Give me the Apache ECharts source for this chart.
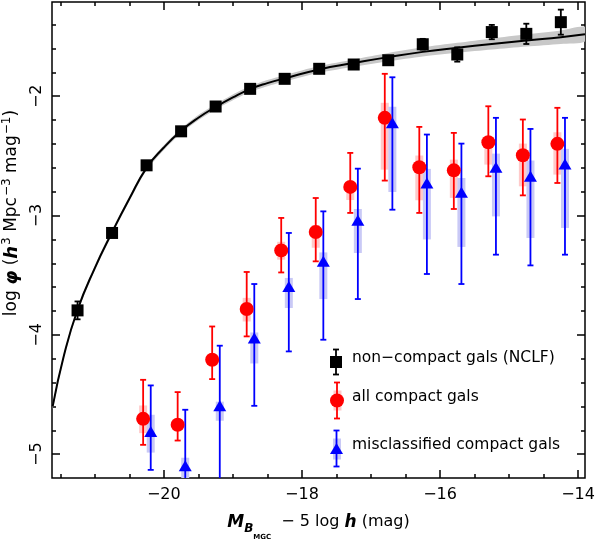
<!DOCTYPE html>
<html>
<head>
<meta charset="utf-8">
<script src="https://cdn.jsdelivr.net/npm/echarts@6/dist/echarts.min.js"></script>
<style>
  html, body { margin: 0; padding: 0; background: #fff; }
  #chart { width: 598px; height: 542px; }
</style>
</head>
<body>
<div id="chart"></div>
<script>
  // --- data ---
  // non-compact LF (black squares)
  const nclfMag = [-21.25, -20.75, -20.25, -19.75, -19.25, -18.75, -18.25, -17.75, -17.25, -16.75, -16.25, -15.75, -15.25, -14.75, -14.25]
  const nclfPhi = [-3.795, -3.146, -2.579, -2.294, -2.086, -1.938, -1.854, -1.770, -1.734, -1.698, -1.564, -1.650, -1.462, -1.477, -1.379]
  const nclfErr = [0.075, 0.03, 0.02, 0.02, 0.02, 0.02, 0.02, 0.025, 0.03, 0.035, 0.045, 0.06, 0.06, 0.085, 0.105]

  // Schechter fit (black line) and its grey uncertainty band
  const fitMag = [-21.61, -21.45, -21.25, -21.0, -20.75, -20.5, -20.25, -20.0, -19.75, -19.5, -19.25, -19.0, -18.75, -18.5, -18.25, -17.75, -17.25, -16.75, -16.25, -15.75, -15.25, -14.75, -14.25, -13.9]
  const fitPhi = [-4.60, -4.18, -3.79, -3.44, -3.14, -2.86, -2.60, -2.43, -2.29, -2.18, -2.09, -2.01, -1.94, -1.89, -1.85, -1.775, -1.722, -1.672, -1.628, -1.594, -1.562, -1.532, -1.505, -1.48]
  const fitBand = [0.02, 0.02, 0.02, 0.02, 0.02, 0.02, 0.02, 0.02, 0.02, 0.022, 0.022, 0.024, 0.025, 0.026, 0.027, 0.028, 0.03, 0.034, 0.038, 0.042, 0.047, 0.052, 0.057, 0.062]

  // compact galaxies, bins shared by both samples
  const compactMag = [-20.25, -19.75, -19.25, -18.75, -18.25, -17.75, -17.25, -16.75, -16.25, -15.75, -15.25, -14.75, -14.25]

  // all compact gals (red)
  const allPhi    = [-4.704, -4.754, -4.209, -3.784, -3.292, -3.138, -2.760, -2.181, -2.595, -2.621, -2.386, -2.495, -2.399]
  const allErrHi  = [-4.377, -4.480, -3.930, -3.473, -3.020, -2.853, -2.475, -1.812, -2.257, -2.307, -2.084, -2.195, -2.097]
  const allErrLo  = [-4.922, -4.886, -4.371, -4.013, -3.477, -3.384, -2.978, -2.707, -2.978, -2.945, -2.671, -2.831, -2.727]
  const allSysHi  = [-4.592, -4.710, -4.170, -3.690, -3.220, -3.080, -2.720, -2.055, -2.497, -2.531, -2.357, -2.397, -2.302]
  const allSysLo  = [-4.824, -4.800, -4.250, -3.888, -3.370, -3.270, -2.870, -2.615, -2.872, -2.852, -2.573, -2.755, -2.657]

  // misclassified compact gals (blue)
  const misPhi    = [-4.810, -5.098, -4.595, -4.027, -3.594, -3.384, -3.040, -2.223, -2.727, -2.805, -2.595, -2.671, -2.567]
  const misErrHi  = [-4.424, -4.628, -4.091, -3.574, -3.146, -2.965, -2.607, -1.841, -2.321, -2.397, -2.181, -2.274, -2.181]
  const misErrLo  = [-5.132, -5.600, -5.600, -4.595, -4.139, -4.041, -3.700, -2.951, -3.490, -3.574, -3.328, -3.418, -3.328]
  const misSysHi  = [-4.670, -5.030, -4.560, -3.980, -3.523, -3.309, -2.945, -2.089, -2.609, -2.685, -2.481, -2.539, -2.441]
  const misSysLo  = [-4.987, -5.250, -4.720, -4.240, -3.775, -3.700, -3.314, -2.802, -3.200, -3.263, -3.007, -3.188, -3.104]

  // axis ticks
  const xMajor = [-20, -18, -16, -14]
  const xMinor = [-21.5, -21, -20.5, -19.5, -19, -18.5, -17.5, -17, -16.5, -15.5, -15, -14.5]
  const yMajor = [-5, -4, -3, -2]
  const yMinor = [-4.8, -4.6, -4.4, -4.2, -3.8, -3.6, -3.4, -3.2, -2.8, -2.6, -2.4, -2.2, -1.8, -1.6, -1.4]

  // the two compact samples are plotted slightly either side of the bin centre
  const allShift = -0.05
  const misShift = 0.06

  const FONT = 'DejaVu Sans'
  const RED = '#ff0000'
  const BLUE = '#0000ff'
  const PINK = '#ffcaca'
  const LILAC = '#c9c9f6'

  const chart = echarts.init(document.getElementById('chart'))

  const minus = v => (v < 0 ? '\u2212' + Math.abs(v) : String(v))

  const tickAxis = (pos, values, len, extra) =>
    Object.assign({
      type: 'value',
      position: pos,
      axisLine: { show: false },
      splitLine: { show: false },
      axisTick: { show: true, inside: true, length: len, customValues: values, lineStyle: { color: '#000', width: 1.5 } },
      axisLabel: { show: false }
    }, extra)

  // error bar with caps: data item [x, lo, hi]
  const errorBarItem = (color, cap) => (params, api) => {
    const lo = api.coord([api.value(0), api.value(1)])
    const hi = api.coord([api.value(0), api.value(2)])
    const style = { stroke: color, lineWidth: 1.8 }
    return {
      type: 'group',
      children: [
        { type: 'line', shape: { x1: lo[0], y1: lo[1], x2: hi[0], y2: hi[1] }, style },
        { type: 'line', shape: { x1: lo[0] - cap, y1: lo[1], x2: lo[0] + cap, y2: lo[1] }, style },
        { type: 'line', shape: { x1: hi[0] - cap, y1: hi[1], x2: hi[0] + cap, y2: hi[1] }, style }
      ]
    }
  }

  // pale thick bar: data item [x, lo, hi]
  const paleBarItem = (color, w) => (params, api) => {
    const lo = api.coord([api.value(0), api.value(1)])
    const hi = api.coord([api.value(0), api.value(2)])
    return {
      type: 'rect',
      shape: { x: lo[0] - w / 2, y: hi[1], width: w, height: lo[1] - hi[1] },
      style: { fill: color }
    }
  }

  const option = {
    animation: false,
    backgroundColor: '#fff',
    grid: {
      left: 52, right: 13, top: 2, bottom: 64,
      outerBoundsMode: 'none',
      show: true, borderColor: '#000', borderWidth: 1.5, backgroundColor: 'transparent'
    },
    xAxis: [
      tickAxis('bottom', xMajor, 8, {
        min: -21.62, max: -13.9,
        axisLabel: { show: true, customValues: xMajor, formatter: minus, margin: 9, fontSize: 16, color: '#000', fontFamily: FONT },
        name: '{M|M}{B|B}{g|MGC}{t|  \u2212 5 log }{M|h}{t| (mag)}',
        nameLocation: 'middle',
        nameGap: 36,
        nameTextStyle: {
          fontFamily: FONT, color: '#000',
          rich: {
            t: { fontSize: 16, lineHeight: 20, verticalAlign: 'top', fontFamily: FONT },
            M: { fontSize: 17, lineHeight: 20, verticalAlign: 'top', fontWeight: 'bold', fontStyle: 'italic', fontFamily: FONT },
            B: { fontSize: 12, lineHeight: 14, verticalAlign: 'top', padding: [9, 0, 0, 0], fontWeight: 'bold', fontStyle: 'italic', fontFamily: FONT },
            g: { fontSize: 7, lineHeight: 8, verticalAlign: 'top', padding: [20, 0, 0, 0], fontWeight: 'bold', fontFamily: FONT }
          }
        }
      }),
      tickAxis('bottom', xMinor, 4, { min: -21.62, max: -13.9 }),
      tickAxis('top', xMajor, 8, { min: -21.62, max: -13.9 }),
      tickAxis('top', xMinor, 4, { min: -21.62, max: -13.9 })
    ],
    yAxis: [
      tickAxis('left', yMajor, 8, {
        min: -5.2, max: -1.21,
        axisLabel: { show: true, customValues: yMajor, formatter: minus, rotate: 90, margin: 7, fontSize: 16, color: '#000', fontFamily: FONT },
        name: '{t|log }{p|\u03c6}{t| (}{h|h}{s|3}{t| Mpc}{s|\u22123}{t| mag}{s|\u22121}{t|)}',
        nameLocation: 'middle',
        nameRotate: 90,
        nameGap: 22,
        nameTextStyle: {
          fontFamily: FONT, color: '#000',
          padding: [0, 0, 0, 54],
          rich: {
            t: { fontSize: 17, lineHeight: 20, verticalAlign: 'top', fontFamily: FONT },
            p: { fontSize: 18, lineHeight: 20, verticalAlign: 'top', fontWeight: 'bold', fontStyle: 'italic', fontFamily: FONT },
            h: { fontSize: 18, lineHeight: 20, verticalAlign: 'top', fontWeight: 'bold', fontStyle: 'italic', fontFamily: FONT },
            s: { fontSize: 12, lineHeight: 12, verticalAlign: 'top', padding: [-2, 0, 0, 1], fontFamily: FONT }
          }
        }
      }),
      tickAxis('left', yMinor, 4, { min: -5.2, max: -1.21 }),
      tickAxis('right', yMajor, 8, { min: -5.2, max: -1.21 }),
      tickAxis('right', yMinor, 4, { min: -5.2, max: -1.21 })
    ],
    series: [
      {
        // grey band round the fit
        type: 'custom',
        clip: true,
        silent: true,
        z: 1,
        data: [0],
        renderItem: (params, api) => {
          const upper = fitMag.map((m, i) => api.coord([m, fitPhi[i] + fitBand[i]]))
          const lower = fitMag.map((m, i) => api.coord([m, fitPhi[i] - fitBand[i]])).reverse()
          return {
            type: 'polygon',
            shape: { points: upper.concat(lower), smooth: 0.25 },
            style: { fill: '#c8c8c8' }
          }
        }
      },
      {
        type: 'line',
        z: 2,
        data: fitMag.map((m, i) => [m, fitPhi[i]]),
        showSymbol: false,
        smooth: 0.5,
        lineStyle: { color: '#000', width: 2 },
        silent: true
      },
      {
        type: 'custom', clip: true, z: 3,
        encode: { x: 0, y: [1, 2] },
        data: compactMag.map((m, i) => [m + allShift, allSysLo[i], allSysHi[i]]),
        renderItem: paleBarItem(PINK, 8)
      },
      {
        type: 'custom', clip: true, z: 3,
        encode: { x: 0, y: [1, 2] },
        data: compactMag.map((m, i) => [m + misShift, misSysLo[i], misSysHi[i]]),
        renderItem: paleBarItem(LILAC, 8)
      },
      {
        type: 'custom', clip: true, z: 4,
        encode: { x: 0, y: [1, 2] },
        data: compactMag.map((m, i) => [m + allShift, allErrLo[i], allErrHi[i]]),
        renderItem: errorBarItem(RED, 3)
      },
      {
        type: 'custom', clip: true, z: 4,
        encode: { x: 0, y: [1, 2] },
        data: compactMag.map((m, i) => [m + misShift, misErrLo[i], misErrHi[i]]),
        renderItem: errorBarItem(BLUE, 3)
      },
      {
        type: 'custom', clip: true, z: 4,
        encode: { x: 0, y: [1, 2] },
        data: nclfMag.map((m, i) => [m, nclfPhi[i] - nclfErr[i], nclfPhi[i] + nclfErr[i]]),
        renderItem: errorBarItem('#000', 3)
      },
      {
        name: 'all compact gals',
        type: 'scatter', z: 5,
        symbol: 'circle', symbolSize: 14,
        itemStyle: { color: RED, opacity: 1 },
        data: compactMag.map((m, i) => [m + allShift, allPhi[i]])
      },
      {
        name: 'misclassified compact gals',
        type: 'scatter', z: 6,
        symbol: 'triangle', symbolSize: [13, 11],
        itemStyle: { color: BLUE, opacity: 1 },
        data: compactMag.map((m, i) => [m + misShift, misPhi[i]])
      },
      {
        name: 'non-compact gals (NCLF)',
        type: 'scatter', z: 6,
        symbol: 'rect', symbolSize: 12,
        itemStyle: { color: '#000', opacity: 1 },
        data: nclfMag.map((m, i) => [m, nclfPhi[i]])
      }
    ],
    // legend drawn by hand to get the error-bar glyphs
    graphic: [
      {
        type: 'group', left: 330, top: 347,
        children: [
          { type: 'line', shape: { x1: 6, y1: 0, x2: 6, y2: 25 }, style: { stroke: '#000', lineWidth: 1.8 } },
          { type: 'line', shape: { x1: 3, y1: 0, x2: 9, y2: 0 }, style: { stroke: '#000', lineWidth: 1.8 } },
          { type: 'line', shape: { x1: 3, y1: 25, x2: 9, y2: 25 }, style: { stroke: '#000', lineWidth: 1.8 } },
          { type: 'rect', shape: { x: 0, y: 6.5, width: 12, height: 12 }, style: { fill: '#000' } }
        ]
      },
      {
        type: 'group', left: 330, top: 380,
        children: [
          { type: 'rect', shape: { x: 2.5, y: 8, width: 8, height: 20 }, style: { fill: PINK } },
          { type: 'line', shape: { x1: 6, y1: 0, x2: 6, y2: 36 }, style: { stroke: RED, lineWidth: 1.8 } },
          { type: 'line', shape: { x1: 3, y1: 0, x2: 9, y2: 0 }, style: { stroke: RED, lineWidth: 1.8 } },
          { type: 'line', shape: { x1: 3, y1: 36, x2: 9, y2: 36 }, style: { stroke: RED, lineWidth: 1.8 } },
          { type: 'circle', shape: { cx: 6, cy: 18, r: 7 }, style: { fill: RED } }
        ]
      },
      {
        type: 'group', left: 330, top: 428,
        children: [
          { type: 'rect', shape: { x: 2.5, y: 8, width: 8, height: 21 }, style: { fill: LILAC } },
          { type: 'line', shape: { x1: 6, y1: 0, x2: 6, y2: 36 }, style: { stroke: BLUE, lineWidth: 1.8 } },
          { type: 'line', shape: { x1: 3, y1: 0, x2: 9, y2: 0 }, style: { stroke: BLUE, lineWidth: 1.8 } },
          { type: 'line', shape: { x1: 3, y1: 36, x2: 9, y2: 36 }, style: { stroke: BLUE, lineWidth: 1.8 } },
          { type: 'polygon', shape: { points: [[6, 12.5], [12.5, 23.5], [-0.5, 23.5]] }, style: { fill: BLUE } }
        ]
      },
      { type: 'text', left: 352, top: 350, style: { text: 'non\u2212compact gals (NCLF)', font: '15.5px "DejaVu Sans"', fill: '#000' } },
      { type: 'text', left: 352, top: 389, style: { text: 'all compact gals', font: '15.5px "DejaVu Sans"', fill: '#000' } },
      { type: 'text', left: 352, top: 437, style: { text: 'misclassified compact gals', font: '15.5px "DejaVu Sans"', fill: '#000' } }
    ]
  }

  chart.setOption(option)
</script>
</body>
</html>
